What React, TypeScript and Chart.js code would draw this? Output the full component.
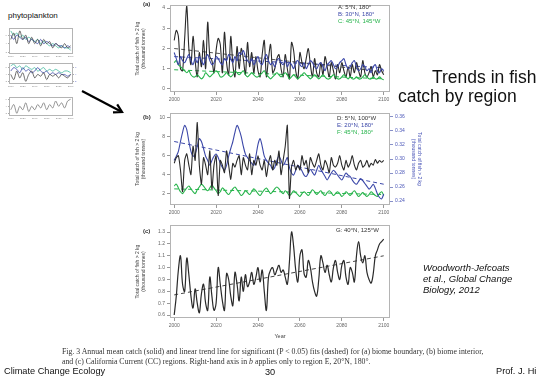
import React, { useEffect, useRef } from "react";
import { Chart, registerables } from "chart.js";
Chart.register(...registerables);

const FONT = 'Arial, "Liberation Sans", sans-serif';
Chart.defaults.font.family = FONT;

// ---------- categories / ticks ----------
const START_YEAR = 2000;
const X_TICKS = [2000, 2020, 2040, 2060, 2080, 2100];
const TREND_YEARS = [2000, 2100];
const A_TICKS = [0, 1, 2, 3, 4];
const B_LEFT_TICKS = [2, 4, 6, 8, 10];
const B_RIGHT_TICKS = [0.24, 0.26, 0.28, 0.3, 0.32, 0.34, 0.36];
const C_TICKS = [0.6, 0.7, 0.8, 0.9, 1.0, 1.1, 1.2, 1.3];
const Y_TITLE = ["Total catch of fish > 2 kg", "(thousand tonnes)"];

// ---------- panel (a) ----------
const A_CATCH = [
  2.4, 2.9, 2.6, 1.0, 0.9, 2.5, 4.1, 2.0, 1.2, 2.6,
  1.4, 0.6, 1.8, 1.1, 2.4, 1.0, 3.3, 1.6, 1.4, 0.8,
  1.9, 2.5, 2.2, 0.8, 2.8, 1.3, 0.7, 2.6, 1.2, 0.6,
  2.1, 1.0, 2.0, 1.5, 0.7, 2.3, 1.1, 1.8, 0.8, 1.6,
  0.9, 0.6, 1.7, 2.4, 0.6, 1.5, 2.2, 0.8, 1.0, 1.5,
  1.7, 1.0, 0.6, 1.7, 1.0, 0.5, 2.3, 1.9, 0.9, 0.5,
  1.8, 1.3, 1.0, 1.5, 2.0, 1.2, 0.6, 1.5, 0.8, 0.6,
  1.3, 0.7, 1.6, 1.1, 0.6, 1.3, 0.9, 0.5, 1.2, 0.8,
  1.3, 0.9, 0.6, 1.1, 0.6, 1.2, 0.8, 1.3, 0.9, 0.6,
  1.4, 0.8, 0.6, 0.8, 1.1, 0.6, 0.9, 0.7, 1.2, 0.9,
  0.7,
];
const B_CATCH = [
  1.8, 1.5, 1.2, 1.6, 1.4, 1.3, 1.5, 1.7, 1.4, 1.2,
  1.5, 1.3, 1.6, 1.4, 1.2, 1.5, 1.7, 1.4, 1.2, 1.3,
  1.6, 1.5, 1.3, 1.2, 1.5, 1.4, 1.7, 1.5, 1.3, 1.6,
  1.4, 1.8, 1.7, 1.9, 1.6, 1.4, 1.3, 1.5, 1.2, 1.4,
  1.6, 1.3, 1.2, 1.5, 1.7, 1.4, 1.2, 1.3, 1.1, 1.4,
  1.5, 1.3, 1.2, 1.4, 1.1, 1.3, 1.2, 1.0, 1.3, 1.4,
  1.2, 1.1, 1.3, 1.0, 1.2, 1.4, 1.3, 1.1, 1.0, 1.2,
  1.3, 1.1, 0.9, 1.2, 1.3, 1.4, 1.2, 1.0, 1.1, 1.3,
  1.4, 1.5, 1.2, 1.0, 1.1, 1.3, 1.4, 1.1, 0.9, 1.0,
  1.2, 1.1, 0.9, 1.0, 0.8, 1.1, 1.2, 0.9, 0.8, 1.0,
  0.9,
];
const C_CATCH = [
  1.3, 1.4, 1.2, 1.1, 1.0, 0.9, 0.8, 0.9, 0.7, 0.6,
  0.6, 0.7, 0.6, 0.5, 0.6, 0.8, 0.7, 0.6, 0.7, 0.8,
  0.9, 0.8, 0.6, 0.6, 0.7, 0.8, 0.7, 0.6, 0.7, 0.9,
  0.8, 0.7, 0.8, 0.9, 0.7, 0.6, 0.7, 0.8, 0.7, 0.6,
  0.6, 0.7, 0.8, 0.9, 0.7, 0.6, 0.5, 0.6, 0.7, 0.8,
  0.7, 0.6, 0.7, 0.8, 0.7, 0.5, 0.6, 0.7, 0.6, 0.5,
  0.6, 0.7, 0.8, 0.7, 0.6, 0.5, 0.6, 0.7, 0.6, 0.5,
  0.6, 0.7, 0.6, 0.5, 0.5, 0.6, 0.7, 0.6, 0.5, 0.5,
  0.6, 0.7, 0.6, 0.5, 0.6, 0.5, 0.5, 0.6, 0.5, 0.5,
  0.6, 0.7, 0.6, 0.5, 0.5, 0.6, 0.5, 0.5, 0.6, 0.5,
  0.45,
];
const A_TREND = [2.0, 0.85];
const B_TREND = [1.6, 1.05];
const C_TREND = [0.95, 0.5];

// ---------- panel (b) ----------
const D_CATCH = [
  5.2, 5.8, 6.0, 4.5, 2.2, 5.5, 6.2, 5.0, 4.0, 7.0,
  5.5, 9.5, 5.0, 3.0, 5.8, 5.0, 4.0, 6.5, 2.5, 5.0,
  6.0, 1.8, 5.5, 5.0, 4.2, 6.5, 5.0, 3.5, 5.2, 4.8,
  5.5, 6.0, 4.0, 5.8, 5.0, 4.5, 6.2, 4.0, 5.5, 5.0,
  6.0, 5.0, 4.5, 5.5, 3.8, 5.2, 6.0, 4.5, 5.5, 5.0,
  6.5, 4.0, 5.5, 7.0, 9.2, 1.5, 4.8, 5.5, 4.5, 5.0,
  4.5, 6.0, 5.0, 5.5, 4.2, 5.8, 5.2, 4.8, 5.5, 6.2,
  5.0, 4.5, 5.5, 5.0, 4.2, 5.8, 5.0, 4.8, 5.2, 6.0,
  5.0, 4.5, 5.5, 4.8, 5.2, 6.0, 5.0, 4.5, 5.2, 5.5,
  4.8, 5.0, 5.5, 4.8, 5.2, 5.0, 5.6, 5.2, 5.5, 5.3,
  5.5,
];
const E_CATCH = [
  0.298, 0.304, 0.311, 0.325, 0.338, 0.348, 0.342, 0.325, 0.311, 0.304,
  0.307, 0.318, 0.329, 0.325, 0.315, 0.304, 0.298, 0.291, 0.298, 0.304,
  0.307, 0.302, 0.294, 0.288, 0.284, 0.291, 0.304, 0.315, 0.325, 0.338,
  0.348, 0.342, 0.332, 0.318, 0.307, 0.302, 0.298, 0.294, 0.291, 0.304,
  0.321, 0.329, 0.318, 0.304, 0.298, 0.294, 0.291, 0.285, 0.288, 0.298,
  0.304, 0.298, 0.291, 0.296, 0.302, 0.288, 0.28, 0.277, 0.284, 0.291,
  0.288, 0.283, 0.277, 0.275, 0.28, 0.285, 0.281, 0.277, 0.284, 0.291,
  0.285, 0.28, 0.275, 0.27, 0.275, 0.28, 0.284, 0.281, 0.277, 0.273,
  0.27, 0.275, 0.28, 0.277, 0.275, 0.27, 0.266, 0.264, 0.268, 0.272,
  0.269, 0.265, 0.261, 0.257, 0.26, 0.264, 0.258, 0.25, 0.245, 0.243,
  0.25,
];
const F_CATCH = [
  2.8, 3.0, 2.6, 2.2, 2.0, 2.3, 2.6, 2.8, 2.5, 2.2,
  2.0, 2.4, 2.7, 3.0, 2.8, 2.5, 2.3, 2.6, 2.9, 2.6,
  2.3, 2.0, 2.2, 2.6, 2.4, 2.1, 1.9, 2.2, 2.5, 2.7,
  2.4, 2.1, 1.8, 2.0, 2.3, 2.1, 1.9, 2.2, 2.5, 2.3,
  2.0, 1.8, 2.1, 2.4, 2.6, 2.3, 2.0, 2.2, 2.5, 2.7,
  2.5, 2.2, 2.0, 2.3, 2.1, 1.8, 2.0, 2.3, 2.1, 1.9,
  1.7, 2.0, 2.2, 2.0, 1.8, 2.1, 2.4, 2.2, 1.9, 2.1,
  2.3, 2.0, 1.8, 2.1, 2.3, 2.1, 1.8, 2.0, 2.2, 2.0,
  1.7, 1.9, 2.2, 2.0, 1.8, 2.1, 2.3, 2.0, 1.7, 1.9,
  2.1, 1.9, 1.7, 1.9, 2.2, 2.0, 1.8, 1.7, 2.0, 2.2,
  1.8,
];
const E_TREND = [0.325, 0.264];
const F_TREND = [2.5, 1.9];

// ---------- panel (c) ----------
const G_CATCH = [
  0.6, 0.76, 0.98, 1.1, 0.86, 0.8, 1.08, 0.94, 0.76, 0.66,
  0.82, 0.7, 0.62, 0.78, 0.86, 0.7, 0.64, 0.92, 0.76, 0.64,
  0.7, 1.0, 0.86, 0.72, 0.64, 0.95, 0.9, 0.76, 0.68, 0.96,
  0.86, 0.72, 0.92, 0.8, 0.94, 0.84, 0.88, 0.96, 0.86, 0.92,
  1.0, 0.88, 0.98, 0.8, 0.64, 0.92, 0.98, 1.0, 0.94, 0.98,
  1.02, 0.96, 0.98, 0.92, 0.86, 1.05, 1.3, 1.18, 0.98, 0.88,
  1.1, 1.15, 0.95, 0.92, 1.06, 1.0, 0.88, 0.8, 0.76, 0.9,
  1.1, 1.04, 0.96, 1.02, 0.94, 0.88, 1.0, 1.06, 0.96, 0.9,
  1.02, 1.06, 0.92, 0.86, 1.0, 0.96, 0.88, 1.1, 1.22, 1.1,
  1.04, 1.1, 0.96, 0.9, 0.87, 0.95, 1.1, 1.15, 1.2, 1.22,
  1.24,
];
const G_TREND = [0.77, 1.1];

// ---------- phytoplankton thumbnails ----------
const THUMB_YEARS = [2000, 2005, 2010, 2015, 2020, 2025, 2030, 2035, 2040, 2045, 2050, 2055, 2060, 2065, 2070, 2075, 2080, 2085, 2090, 2095, 2100];
const THUMB_Y_TICKS = [2, 4, 6];
const T1_DARK = [5, 6.5, 4, 7, 5, 6, 4, 5.5, 4, 5, 3.5, 5, 4, 4.5, 3, 4, 3.5, 3, 4, 3, 3.5];
const T1_BLUE = [6, 5, 6, 5.5, 5, 5.5, 4.5, 5, 4.5, 4, 5, 4, 4.5, 4, 3.5, 4, 3.5, 3.5, 3, 3.5, 3];
const T1_GREEN = [7, 6, 6.5, 5.5, 6, 5, 5.5, 5, 4.5, 5, 4, 4.5, 4, 3.5, 4, 3.5, 3, 3.5, 3, 3, 2.5];
const T2_DARK = [4, 2.5, 5, 3, 4.5, 2, 4, 5, 3, 4, 3.5, 4.5, 2.5, 4, 3.5, 4, 3, 4, 3.5, 3, 4];
const T2_BLUE = [5, 6, 5.5, 4.5, 6, 5, 5.5, 4.5, 5, 6, 5, 4.5, 5, 4, 4.5, 4, 4.5, 4, 4, 3.5, 4];
const T2_GREEN = [6.5, 7, 6, 6.5, 5.5, 6.5, 6, 5.5, 6, 5, 5.5, 6, 5, 5.5, 5, 5.5, 5, 4.5, 5, 5, 4.5];
const T3_GRAY = [3, 4.5, 2, 4, 3, 5, 2.5, 4, 3, 4.5, 3.5, 5, 3, 4.5, 3.5, 5.5, 4, 5, 3.5, 5.5, 6];

// ---------- colours ----------
const BLACK = "#2a2a2a";
const BLUE = "#3b47a8";
const GREEN = "#25b34a";
const TEAL = "#3db89c";
const TICK = "#666";
const FRAME = "#b4b4b4";

const annual = (vals: number[]) => vals.map((y, i) => ({ x: START_YEAR + i, y }));
const paired = (xs: number[], ys: number[]) => xs.map((x, i) => ({ x, y: ys[i] }));

const boxPlugin = {
  id: "boxFrame",
  afterDraw(chart: any) {
    const { ctx, chartArea: a } = chart;
    ctx.save();
    ctx.strokeStyle = FRAME;
    ctx.lineWidth = 1;
    ctx.strokeRect(Math.round(a.left) + 0.5, Math.round(a.top) + 0.5, Math.round(a.right - a.left) - 1, Math.round(a.bottom - a.top) - 1);
    ctx.restore();
  },
};

const line = (data: any, color: string, extra: any = {}) => ({
  data, borderColor: color, borderWidth: 1.1, pointRadius: 0, tension: 0.3, fill: false, ...extra,
});
const dashed = (data: any, color: string, extra: any = {}) => ({
  data, borderColor: color, borderWidth: 1, borderDash: [4, 3], pointRadius: 0, tension: 0, fill: false, ...extra,
});

function xAxis(height: number, size: number, tickLen: number, title?: string) {
  return {
    type: "linear", min: 1998, max: 2103,
    afterBuildTicks: (s: any) => { s.ticks = X_TICKS.map((v) => ({ value: v })); },
    afterFit: (s: any) => { s.height = height; },
    ticks: { font: { size, family: FONT }, color: TICK, padding: 2, maxRotation: 0, autoSkip: false, callback: (v: any) => String(v) },
    grid: { drawOnChartArea: false, drawTicks: true, tickLength: tickLen, color: "#999" },
    border: { display: false },
    title: title
      ? { display: true, text: title, font: { size: 5.5, family: FONT }, color: "#444", padding: { top: 0, bottom: 2 } }
      : { display: false },
  };
}

function yAxis(o: { min: number; max: number; ticks: number[]; width: number; pos?: string; color?: string; dec?: number; size?: number; tickLen?: number; title?: string[]; titlePad?: number; }) {
  const color = o.color || TICK;
  return {
    type: "linear", position: o.pos || "left", min: o.min, max: o.max,
    afterBuildTicks: (s: any) => { s.ticks = o.ticks.map((v) => ({ value: v })); },
    afterFit: (s: any) => { s.width = o.width; },
    ticks: { font: { size: o.size || 5, family: FONT }, color, padding: 2, autoSkip: false,
      callback: (v: any) => (o.dec !== undefined ? Number(v).toFixed(o.dec) : String(v)) },
    grid: { drawOnChartArea: false, drawTicks: true, tickLength: o.tickLen || 3, color: o.pos === "right" ? "#8890c8" : "#999" },
    border: { display: false },
    title: o.title
      ? { display: true, text: o.title, font: { size: 5, family: FONT, lineHeight: 1.3 }, color: o.pos === "right" ? color : "#444", padding: { top: o.titlePad || 0, bottom: 0 } }
      : { display: false },
  };
}

function baseOptions(scales: any, padTop: number, padRight: number) {
  return {
    responsive: false, animation: false, devicePixelRatio: 1, events: [],
    layout: { padding: { top: padTop, right: padRight, left: 0, bottom: 0 } },
    plugins: { legend: { display: false }, tooltip: { enabled: false } },
    scales,
  };
}

function ChartCanvas({ left, top, width, height, build }: { left: number; top: number; width: number; height: number; build: () => any }) {
  const ref = useRef<HTMLCanvasElement>(null);
  useEffect(() => {
    const chart = new Chart(ref.current as HTMLCanvasElement, build());
    return () => chart.destroy();
  }, []);
  return (
    <canvas ref={ref} width={width} height={height}
      style={{ position: "absolute", left, top, width, height, display: "block" }} />
  );
}

const panelA = () => ({
  type: "line",
  data: { datasets: [
    line(annual(B_CATCH), BLUE),
    line(annual(C_CATCH), GREEN),
    line(annual(A_CATCH), BLACK),
    dashed(paired(TREND_YEARS, A_TREND), "#555"),
    dashed(paired(TREND_YEARS, B_TREND), BLUE),
    dashed(paired(TREND_YEARS, C_TREND), GREEN),
  ] },
  options: baseOptions({
    x: xAxis(14, 5, 3),
    y: yAxis({ min: -0.15, max: 4.15, ticks: A_TICKS, width: 42, title: Y_TITLE, titlePad: 6 }),
  }, 4, 3),
  plugins: [boxPlugin],
});

const panelB = () => ({
  type: "line",
  data: { datasets: [
    line(annual(D_CATCH), BLACK, { yAxisID: "y", tension: 0.2 }),
    line(annual(E_CATCH), BLUE, { yAxisID: "y1" }),
    line(annual(F_CATCH), GREEN, { yAxisID: "y" }),
    dashed(paired(TREND_YEARS, E_TREND), BLUE, { yAxisID: "y1" }),
    dashed(paired(TREND_YEARS, F_TREND), GREEN, { yAxisID: "y" }),
  ] },
  options: baseOptions({
    x: xAxis(14, 5, 3),
    y: yAxis({ min: 0.8, max: 10.5, ticks: B_LEFT_TICKS, width: 42, title: Y_TITLE, titlePad: 6 }),
    y1: yAxis({ min: 0.2343, max: 0.3657, ticks: B_RIGHT_TICKS, width: 36, pos: "right", color: "#4a56b8", dec: 2, title: Y_TITLE, titlePad: 3 }),
  }, 6, 0),
  plugins: [boxPlugin],
});

const panelC = () => ({
  type: "line",
  data: { datasets: [
    line(annual(G_CATCH), BLACK, { tension: 0.4, borderWidth: 1.2 }),
    dashed(paired(TREND_YEARS, G_TREND), "#444"),
  ] },
  options: baseOptions({
    x: xAxis(24, 5, 3, "Year"),
    y: yAxis({ min: 0.575, max: 1.36, ticks: C_TICKS, width: 42, dec: 1, title: Y_TITLE, titlePad: 6 }),
  }, 6, 3),
  plugins: [boxPlugin],
});

function thumbX(h: number) {
  return {
    type: "linear", min: 1997, max: 2104,
    afterBuildTicks: (s: any) => { s.ticks = X_TICKS.map((v) => ({ value: v })); },
    afterFit: (s: any) => { s.height = h; },
    ticks: { font: { size: 2.5, family: FONT }, color: "#888", padding: 1, maxRotation: 0, autoSkip: false, callback: (v: any) => String(v) },
    grid: { drawOnChartArea: false, tickLength: 1, color: "#aaa" },
    border: { display: false },
  };
}
function thumbY(min: number, max: number, pos = "left", color = "#888", w = 9) {
  return {
    type: "linear", position: pos, min, max,
    afterBuildTicks: (s: any) => { s.ticks = THUMB_Y_TICKS.map((v) => ({ value: v })); },
    afterFit: (s: any) => { s.width = w; },
    ticks: { font: { size: 2.5, family: FONT }, color, padding: 1, autoSkip: false },
    grid: { drawOnChartArea: false, tickLength: 1, color: "#aaa" },
    border: { display: false },
  };
}
const thin = (ys: number[], color: string, extra: any = {}) => ({
  data: paired(THUMB_YEARS, ys), borderColor: color, borderWidth: 0.8, pointRadius: 0, tension: 0.3, fill: false, ...extra,
});

const thumb1 = () => ({
  type: "line",
  data: { datasets: [thin(T1_DARK, "#444"), thin(T1_BLUE, BLUE), thin(T1_GREEN, TEAL)] },
  options: baseOptions({ x: thumbX(6), y: thumbY(1.8, 7.8) }, 2, 10),
  plugins: [boxPlugin],
});
const thumb2 = () => ({
  type: "line",
  data: { datasets: [thin(T2_DARK, "#444"), thin(T2_BLUE, BLUE, { yAxisID: "y1" }), thin(T2_GREEN, TEAL)] },
  options: baseOptions({ x: thumbX(6), y: thumbY(1.5, 7.5), y1: thumbY(1.5, 7.5, "right", "#5a66c8", 8) }, 2, 2),
  plugins: [boxPlugin],
});
const thumb3 = () => ({
  type: "line",
  data: { datasets: [thin(T3_GRAY, "#777")] },
  options: baseOptions({ x: thumbX(6), y: thumbY(1.5, 6.8) }, 2, 10),
  plugins: [boxPlugin],
});

function Txt({ x, cy, size, children, style }: { x: number; cy: number; size: number; children: any; style?: any }) {
  return (
    <div style={{ position: "absolute", left: x, top: cy - size * 0.6, fontSize: size, lineHeight: `${size * 1.2}px`, whiteSpace: "nowrap", fontFamily: FONT, color: "#111", ...style }}>
      {children}
    </div>
  );
}

export default function App() {
  return (
    <div style={{ position: "fixed", left: 0, top: 0, width: 536, height: 379, overflow: "hidden", background: "#fff" }}>
      {/* thumbnails */}
      <Txt x={8} cy={16} size={8} style={{ color: "#111" }}>phytoplankton</Txt>
      <ChartCanvas left={0} top={25} width={83} height={34} build={thumb1} />
      <ChartCanvas left={0} top={60} width={83} height={29} build={thumb2} />
      <ChartCanvas left={0} top={94} width={83} height={27} build={thumb3} />

      <svg width={536} height={379} style={{ position: "absolute", left: 0, top: 0 }}>
        <line x1={82} y1={91} x2={121} y2={111.5} stroke="#000" strokeWidth={2.2} />
        <polyline points="117.2,104.4 122,112 113,112.4" fill="none" stroke="#000" strokeWidth={2.2} />
      </svg>

      {/* main panels */}
      <ChartCanvas left={128} top={0} width={265} height={106} build={panelA} />
      <ChartCanvas left={128} top={107} width={298} height={112} build={panelB} />
      <ChartCanvas left={128} top={219} width={265} height={123} build={panelC} />

      <Txt x={143} cy={5} size={6} style={{ fontWeight: "bold", color: "#333" }}>(a)</Txt>
      <Txt x={143} cy={118} size={6} style={{ fontWeight: "bold", color: "#333" }}>(b)</Txt>
      <Txt x={143} cy={232} size={6} style={{ fontWeight: "bold", color: "#333" }}>(c)</Txt>

      <Txt x={338} cy={8} size={6} style={{ color: "#333" }}>A: 5°N, 180°</Txt>
      <Txt x={338} cy={15} size={6} style={{ color: BLUE }}>B: 30°N, 180°</Txt>
      <Txt x={338} cy={22} size={6} style={{ color: GREEN }}>C: 45°N, 145°W</Txt>

      <Txt x={337} cy={119} size={6} style={{ color: "#333" }}>D: 5°N, 100°W</Txt>
      <Txt x={337} cy={126} size={6} style={{ color: BLUE }}>E: 20°N, 180°</Txt>
      <Txt x={337} cy={133} size={6} style={{ color: GREEN }}>F: 45°N, 180°</Txt>

      <Txt x={336} cy={231} size={6} style={{ color: "#333" }}>G: 40°N, 125°W</Txt>

      {/* slide text */}
      <Txt x={432} cy={77} size={17.5}>Trends in fish</Txt>
      <Txt x={398} cy={96} size={17.5}>catch by region</Txt>

      <Txt x={423} cy={268} size={9.5} style={{ fontStyle: "italic" }}>Woodworth-Jefcoats</Txt>
      <Txt x={423} cy={279} size={9.5} style={{ fontStyle: "italic" }}>et al., Global Change</Txt>
      <Txt x={423} cy={290} size={9.5} style={{ fontStyle: "italic" }}>Biology, 2012</Txt>

      <Txt x={62} cy={352} size={7.8} style={{ fontFamily: '"Liberation Serif", serif', color: "#333" }}>
        Fig. 3 Annual mean catch (solid) and linear trend line for significant (P &lt; 0.05) fits (dashed) for (a) biome boundary, (b) biome interior,
      </Txt>
      <Txt x={62} cy={362} size={7.8} style={{ fontFamily: '"Liberation Serif", serif', color: "#333" }}>
        and (c) California Current (CC) regions. Right-hand axis in <i>b</i> applies only to region E, 20°N, 180°.
      </Txt>

      <Txt x={4} cy={372} size={9.2}>Climate Change Ecology</Txt>
      <Txt x={265} cy={373} size={9.2}>30</Txt>
      <Txt x={496} cy={372} size={9.2}>Prof. J. Hicke</Txt>
    </div>
  );
}
